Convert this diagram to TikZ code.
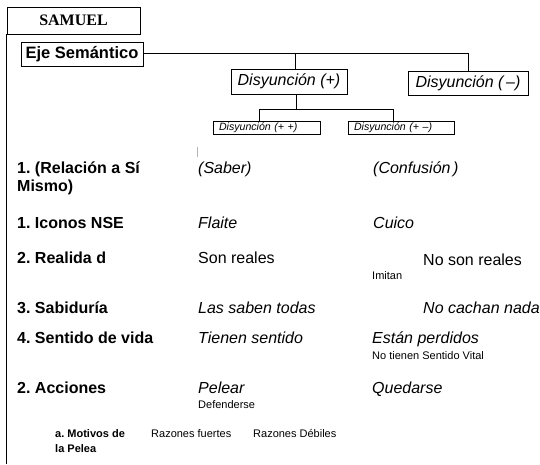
\documentclass[tikz,border=0pt]{standalone}
\usepackage{fontspec}
\setmainfont{Liberation Sans}
\newfontfamily\serifbold{Liberation Serif}
\frenchspacing
\begin{document}
\begin{tikzpicture}[x=1pt,y=-1pt,
  frame/.style={draw=black,line width=0.9pt},
  conn/.style={draw=black,line width=0.8pt},
  lbl/.style={font=\fontsize{16}{18}\selectfont\bfseries,anchor=base west,inner sep=0pt},
  val/.style={font=\fontsize{16}{18}\selectfont\itshape,anchor=base west,inner sep=0pt},
  valup/.style={font=\fontsize{16}{18}\selectfont,anchor=base west,inner sep=0pt},
  note/.style={font=\fontsize{11}{15}\selectfont,anchor=base west,inner sep=0pt},
  notebold/.style={font=\fontsize{11}{15}\selectfont\bfseries,anchor=base west,inner sep=0pt},
  dbox/.style={draw=black,line width=0.9pt,font=\fontsize{16}{18}\selectfont\itshape,inner sep=0pt},
  sbox/.style={draw=black,line width=0.8pt,font=\fontsize{10.6}{12}\selectfont\itshape,inner ysep=0pt,inner xsep=6pt,text width=95pt,align=left,minimum height=13pt}
]
\useasboundingbox (0,0) rectangle (540,464);
% header
\node[frame,minimum width=133pt,minimum height=27pt,inner sep=0pt,font=\serifbold\fontsize{16}{18}\selectfont\bfseries] (samuel) at (73.5,20.5) {SAMUEL};
\coordinate (bottomleft) at (samuel.south west |- 0,464);
\draw[frame] (samuel.south west) -- (bottomleft);
% tree
\node[frame,minimum width=122pt,minimum height=24pt,inner sep=0pt,font=\fontsize{16.5}{18}\selectfont\bfseries] (eje) at (82,54) {Eje Semántico};
\node[dbox,minimum width=116pt,minimum height=25pt] (dplus) at (289,81.5) {Disyunción (+)};
\node[dbox,minimum width=120pt,minimum height=24pt] (dminus) at (468,83) {Disyunción (\,–)};
\node[sbox,minimum width=107pt] (spp) at (266.5,127.5) {Disyunción (+ +)};
\node[sbox,minimum width=106pt,text width=94pt] (spm) at (401,127.5) {Disyunción (+ –)};
\coordinate (j1) at (295,53);
\coordinate (j2) at (296,109);
\coordinate (j3) at (259,109);
\coordinate (j4) at (393,109);
\draw[conn] (eje.east |- j1) -| (dminus.north);
\draw[conn] (j1) -- (j1 |- dplus.north);
\draw[conn] (dplus.south -| j2) -- (j2);
\draw[conn] (j3) -- (j4);
\draw[conn] (j3) -- (j3 |- spp.north);
\draw[conn] (j4) -- (j4 |- spm.north);
% stray tick
\coordinate (t1) at (197,147);
\coordinate (t2) at (197,157);
\draw[black!30,line width=0.6pt] (t1) -- (t2);
% rows
\node[lbl] (r1) at (17,173.7) {\vtop{\hbox{1. (Relación a Sí}\hbox{Mismo)}}};
\node[val] (saber) at (198,173.7) {(Saber)};
\node[val] (conf) at (373,173.7) {(Confusión\,)};

\node[lbl] (r2) at (17,228.7) {1. Iconos NSE};
\node[val] (flaite) at (198,228.7) {Flaite};
\node[val] (cuico) at (373,228.7) {Cuico};

\node[lbl] (r3) at (17,263.7) {2. Realida d};
\node[valup] (sonr) at (198,263.7) {Son reales};
\node[valup] (nosonr) at (423,265.7) {No son reales};
\node[note] (imitan) at (372,279) {Imitan};

\node[lbl] (r4) at (17,313.7) {3. Sabiduría};
\node[val] (saben) at (198,313.7) {Las saben todas};
\node[val] (cachan) at (423,313.7) {No cachan nada};

\node[lbl] (r5) at (17,343.3) {4. Sentido de vida};
\node[val] (tienen) at (198,343.3) {Tienen sentido};
\node[val] (estan) at (372,343.3) {Están perdidos};
\node[note] (notienen) at (372,359) {No tienen Sentido Vital};

\node[lbl] (r6) at (17,393.7) {2. Acciones};
\node[val] (pelear) at (198,393.7) {Pelear};
\node[note] (defend) at (198,408) {Defenderse};
\node[val] (quedarse) at (372,393.7) {Quedarse};

\node[notebold] (motivos) at (55,437) {\vtop{\hbox{a. Motivos de}\hbox{la Pelea}}};
\node[note] (fuertes) at (151,437.5) {Razones fuertes};
\node[note] (debiles) at (253,437.5) {Razones Débiles};
\end{tikzpicture}
\end{document}
